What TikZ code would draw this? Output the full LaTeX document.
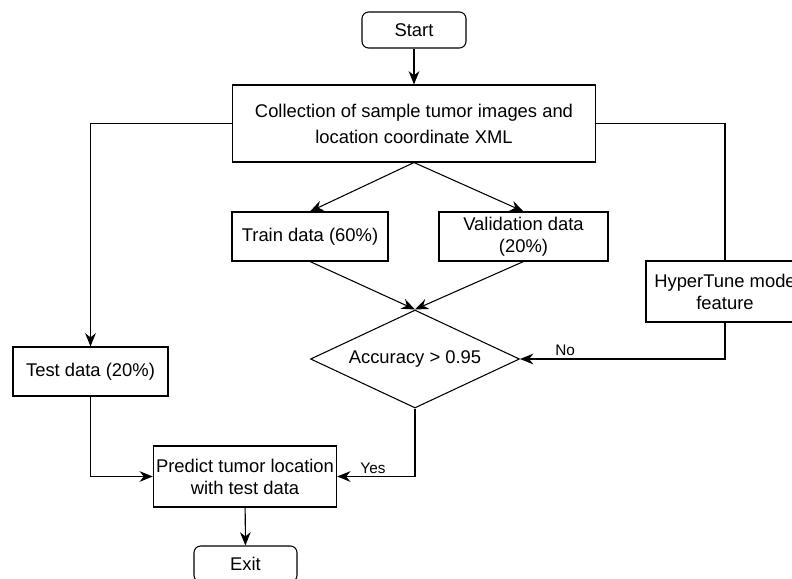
\documentclass[tikz,border=0pt]{standalone}
\usepackage{fontspec}
\setmainfont{Liberation Sans}
\usepackage{tikz}
\usetikzlibrary{positioning,shapes.geometric,arrows.meta}

\tikzset{
  stepbox/.style={draw, line width=0.8pt, align=center, inner sep=2pt, font=\fontsize{13.8}{16.5}\selectfont},
  termbox/.style={stepbox, rounded corners=5pt},
  decbox/.style={draw, diamond, line width=0.8pt, inner sep=0pt, aspect=2.1, font=\fontsize{13.8}{16.5}\selectfont},
  flow/.style={line width=0.8pt, -{Stealth[length=10pt,width=8pt]}},
  link/.style={line width=0.8pt},
  lbl/.style={font=\fontsize{11.5}{13}\selectfont, inner sep=2pt}
}

\begin{document}
\begin{tikzpicture}[x=0.75pt,y=0.75pt,yscale=-1,xscale=1]
\useasboundingbox (0,0) rectangle (792,578);

%Shape: Terminator
\node [termbox, minimum width=78pt, minimum height=27pt] (start) at (414,30) {Start};
%Shape: Rectangle
\node [stepbox, minimum width=272.25pt, minimum height=57.75pt] (collect) at (414,123.5) {Collection of sample tumor images and\\[3pt] location coordinate XML};
%Shape: Rectangle
\node [stepbox, minimum width=117pt, minimum height=36.75pt] (train) at (310,236.5) {Train data (60\%)};
%Shape: Rectangle
\node [stepbox, minimum width=126.75pt, minimum height=36.75pt] (valid) at (523.5,236.5) {Validation data\\(20\%)};
%Shape: Diamond
\node [decbox, minimum width=156.75pt, minimum height=73.5pt] (acc) at (415,359) {Accuracy > 0.95};
%Shape: Rectangle
\node [stepbox, minimum width=118.5pt, minimum height=45.75pt] (hyper) at (725,291.5) {HyperTune mode\\feature};
%Shape: Rectangle
\node [stepbox, minimum width=116.25pt, minimum height=36.75pt] (test) at (90.5,371.5) {Test data (20\%)};
%Shape: Rectangle
\node [stepbox, minimum width=136.5pt, minimum height=45.75pt] (predict) at (245,476.5) {Predict tumor location\\with test data};
%Shape: Terminator
\node [termbox, minimum width=77.25pt, minimum height=27pt] (exit) at (245.5,564) {Exit};

% Connectors
\draw [flow] (start) -- (collect);
\draw [flow] (collect.south) -- (train.north);
\draw [flow] (collect.south) -- (valid.north);
\draw [flow] (train.south) -- (acc.north);
\draw [flow] (valid.south) -- (acc.north);
\draw [flow] (collect.west) -| (test.north);
\draw [link] (collect.east) -| (hyper.north);
\draw [flow] (hyper.south) |- (acc.east) node [lbl, pos=0.89, above] {No};
\draw [flow] (acc.south) |- (predict.east) node [lbl, pos=0.77, above] {Yes};
\draw [flow] (test.south) |- (predict.west);
\draw [flow] (predict) -- (exit);

\end{tikzpicture}
\end{document}
